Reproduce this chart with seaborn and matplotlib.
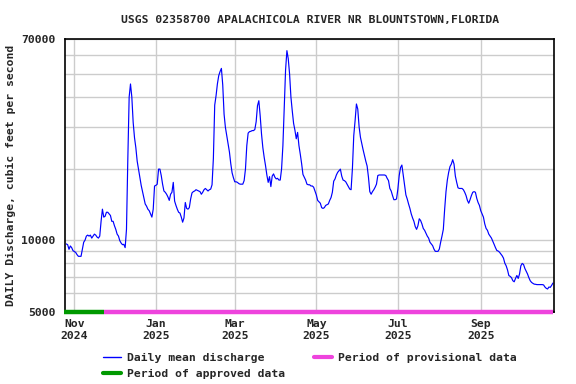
import pandas as pd
import matplotlib
matplotlib.use("Agg")
import matplotlib.pyplot as plt
from matplotlib.lines import Line2D
import seaborn as sns

# Daily mean discharge, cfs, one value per day starting 2024-10-26
start_date = "2024-10-26"
flow_cfs = [
    9640, 9570, 9150, 9450, 9300, 9030, 8950, 8880, 8690, 8550,
    8550, 8550, 9170, 9800, 10000, 10400, 10500, 10400, 10500, 10200,
    10400, 10600, 10500, 10300, 10200, 10400, 12000, 13500, 12500, 12600,
    13100, 13100, 12900, 12700, 12000, 12000, 11500, 11100, 10600, 10400,
    9950, 9720, 9570, 9600, 9300, 11100, 21900, 40000, 45400, 40000,
    31300, 27000, 24500, 21500, 19900, 18500, 17000, 16000, 15000, 14200,
    13900, 13500, 13300, 12900, 12500, 13500, 16900, 17000, 17200, 19900,
    19900, 18700, 17200, 16100, 15900, 15600, 15200, 14700, 15600, 15900,
    17500, 14600, 14000, 13500, 13100, 13000, 12500, 11900, 12400, 14400,
    13600, 13500, 13700, 14900, 15800, 16000, 16100, 16300, 16200, 16100,
    16000, 15600, 15900, 16300, 16500, 16300, 16100, 16300, 16400, 17100,
    22100, 37000, 40500, 45400, 49200, 51200, 52800, 45000, 33900, 29800,
    27500, 25500, 23500, 21000, 19200, 18300, 17600, 17600, 17500, 17300,
    17200, 17200, 17200, 17800, 19900, 25000, 28200, 28600, 28700, 28900,
    28900, 29200, 31500, 36800, 38600, 33400, 28000, 24500, 22300, 20600,
    18800, 17500, 18500, 16800, 18600, 19000, 18400, 18100, 18200, 17900,
    17900, 19900, 25000, 36000, 52000, 62700, 58000, 50000, 40000, 35000,
    31000, 29000, 26700, 28400, 25000, 23000, 21000, 18900, 18400, 17900,
    17200, 17100, 17100, 16900, 16900, 16700, 16100, 15500, 14700, 14500,
    14300, 13700, 13600, 13700, 14000, 14100, 14200, 14700, 15100, 15900,
    17700, 18100, 18800, 19300, 19600, 19900, 18600, 17900, 17800, 17600,
    17200, 16800, 16400, 16300, 20000, 27500, 31800, 37400, 35600, 30000,
    27100, 25500, 24000, 22700, 21500, 20500, 18400, 16000, 15600, 16000,
    16300, 16700, 17200, 18700, 18800, 18800, 18800, 18800, 18800, 18700,
    18200, 17800, 16500, 16100, 15400, 14800, 14800, 14900, 16400, 18700,
    20200, 20700, 18800, 17000, 15500, 14900, 14200, 13600, 12900, 12400,
    12000, 11400, 11100, 11500, 12300, 12100, 11700, 11200, 11000, 10700,
    10400, 10200, 9800, 9640, 9480, 9170, 8970, 8970, 8970, 9170,
    9800, 10400, 11100, 13500, 16000, 17900, 19300, 20400, 20900, 21800,
    20900, 18600, 17500, 16600, 16500, 16500, 16500, 16300, 15900, 15400,
    14700, 14300, 14800, 15400, 15900, 16000, 15900, 15000, 14400, 14000,
    13300, 12900, 12500, 11700, 11200, 11000, 10600, 10400, 10200, 9900,
    9600, 9300, 9050, 9000, 8900, 8750, 8600, 8400, 8000, 7800,
    7500, 7100, 7040, 6950, 6750, 6680, 6900, 7100, 6900, 7200,
    7800, 7980, 7900, 7600, 7400, 7200, 6950, 6750, 6640, 6580,
    6530, 6520, 6500, 6500, 6500, 6500, 6500, 6480, 6350, 6270,
    6230, 6350, 6330, 6450, 6600,
]

# approved / provisional periods
approved_end = "2024-11-23"
axis_start = "2024-10-25 06:00"
axis_end = "2025-10-26"

y_ticks = [5000, 6000, 7000, 8000, 9000, 10000, 20000, 30000, 40000, 50000, 60000, 70000]
y_labels = ["5000", "", "", "", "", "10000", "", "", "", "", "", "70000"]
x_ticks = ["2024-11-01", "2025-01-01", "2025-03-01", "2025-05-01", "2025-07-01", "2025-09-01"]
x_labels = ["Nov\n2024", "Jan\n2025", "Mar\n2025", "May\n2025", "Jul\n2025", "Sep\n2025"]

df = pd.DataFrame({
    "date": pd.date_range(start_date, periods=len(flow_cfs), freq="D"),
    "flow": flow_cfs,
})

sns.set_style("white")
plt.rcParams["font.family"] = "DejaVu Sans Mono"
plt.rcParams["font.weight"] = "bold"
plt.rcParams["font.size"] = 8.2

fig = plt.figure(figsize=(5.76, 3.84), dpi=100)
ax = fig.add_axes([0.1134, 0.1883, 0.8489, 0.7094])

ax.set_yscale("log")
sns.lineplot(data=df, x="date", y="flow", ax=ax, color="#0000ff", linewidth=0.85, estimator=None)

x0 = pd.Timestamp(axis_start)
x1 = pd.Timestamp(axis_end)
ax.set_xlim(x0, x1)
ax.set_ylim(5000, 70000)

ax.set_yticks(y_ticks)
ax.set_yticklabels(y_labels)
ax.yaxis.set_minor_locator(matplotlib.ticker.NullLocator())
ax.set_xticks(pd.to_datetime(x_ticks))
ax.set_xticklabels(x_labels, linespacing=1.3)
ax.tick_params(length=0, pad=5)
ax.tick_params(axis="y", pad=7)
ax.grid(True, color="#cccccc", linewidth=1.0)
ax.set_axisbelow(True)
for s in ax.spines.values():
    s.set_color("black")
    s.set_linewidth(1.2)

# data status bars along the bottom
ab = pd.Timestamp(approved_end)
ax.plot([x0 - pd.Timedelta(days=1), ab], [5000, 5000], color="#009900", lw=3.2, clip_on=False, solid_capstyle="butt", zorder=5)
ax.plot([ab, x1 - pd.Timedelta(days=1)], [5000, 5000], color="#ee44dd", lw=3.2, clip_on=False, solid_capstyle="butt", zorder=5)

ax.set_xlabel("")
ax.set_ylabel("DAILY Discharge, cubic feet per second", labelpad=4, fontweight="bold")
ax.set_title("USGS 02358700 APALACHICOLA RIVER NR BLOUNTSTOWN,FLORIDA", pad=11.5,
             fontsize=8.2, fontweight="bold")

handles = [
    Line2D([], [], color="#0000ff", lw=1.0),
    Line2D([], [], color="#009900", lw=3),
    Line2D([], [], color="#ee44dd", lw=3),
]
labels = ["Daily mean discharge", "Period of approved data", "Period of provisional data"]
fig.legend(handles, labels, ncol=2, loc="upper left", bbox_to_anchor=(0.1783, 0.0815),
           frameon=False, handlelength=1.58, handletextpad=0.53, columnspacing=2.57,
           labelspacing=0.55, borderaxespad=0, borderpad=0)

fig.savefig("out.png", dpi=100)
